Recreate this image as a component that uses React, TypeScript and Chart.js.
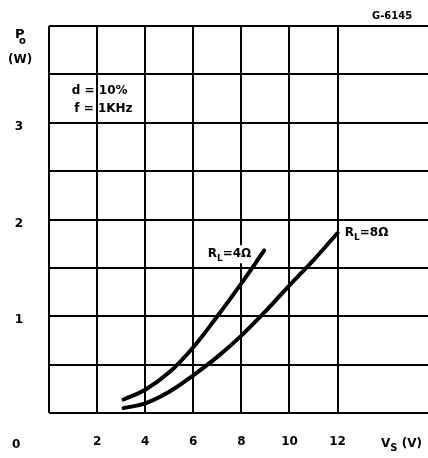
import React, { useEffect, useRef } from "react";
import { Chart, registerables } from "chart.js";
Chart.register(...registerables);

// X axis (Vs, volts) labelled ticks and Y axis (Po, watts) labelled ticks
const vsTicks = [2, 4, 6, 8, 10, 12];
const poTicks = [1, 2, 3];

// RL = 4 ohm curve
const rl4V = [3.1, 4, 5, 6, 7, 8, 8.95];
const rl4P = [0.14, 0.24, 0.42, 0.68, 1.0, 1.34, 1.68];

// RL = 8 ohm curve
const rl8V = [3.1, 4, 5, 6, 7, 8, 9, 10, 11, 12];
const rl8P = [0.05, 0.1, 0.22, 0.39, 0.58, 0.8, 1.05, 1.32, 1.58, 1.86];

const FONT = '"DejaVu Sans"';

type Part = { t: string; size: number; dy?: number };

function drawParts(ctx: CanvasRenderingContext2D, parts: Part[], x: number, y: number, bg: boolean) {
  let w = 0;
  parts.forEach((p) => {
    ctx.font = `bold ${p.size}px ${FONT}`;
    w += ctx.measureText(p.t).width;
  });
  if (bg) {
    ctx.fillStyle = "#fff";
    ctx.fillRect(x - 2, y - 12, w + 4, 18);
  }
  ctx.fillStyle = "#000";
  let cx = x;
  parts.forEach((p) => {
    ctx.font = `bold ${p.size}px ${FONT}`;
    ctx.fillText(p.t, cx, y + (p.dy || 0));
    cx += ctx.measureText(p.t).width;
  });
}

const textPlugin = {
  id: "texts",
  afterDraw(chart: any) {
    const { ctx } = chart;
    const x = chart.scales.x;
    const y = chart.scales.y;
    ctx.save();
    ctx.textBaseline = "alphabetic";
    ctx.textAlign = "left";
    // curve labels (data coordinates)
    drawParts(ctx, [{ t: "R", size: 12 }, { t: "L", size: 9, dy: 4 }, { t: "=4Ω", size: 12 }],
      x.getPixelForValue(6.6), y.getPixelForValue(1.61), true);
    drawParts(ctx, [{ t: "R", size: 12 }, { t: "L", size: 9, dy: 4 }, { t: "=8Ω", size: 12 }],
      x.getPixelForValue(12.3), y.getPixelForValue(1.83), true);
    // conditions
    drawParts(ctx, [{ t: "d = 10%", size: 12 }], x.getPixelForValue(0.95), y.getPixelForValue(3.3), false);
    drawParts(ctx, [{ t: "f = 1KHz", size: 12 }], x.getPixelForValue(1.05), y.getPixelForValue(3.11), false);
    // figure id
    drawParts(ctx, [{ t: "G-6145", size: 10 }], 372, 19, false);
    // axis titles
    drawParts(ctx, [{ t: "P", size: 13 }], 15, 38, false);
    drawParts(ctx, [{ t: "o", size: 10 }], 19, 44, false);
    drawParts(ctx, [{ t: "(W)", size: 12 }], 8, 63, false);
    drawParts(ctx, [{ t: "0", size: 12 }], 12, 448, false);
    drawParts(ctx, [{ t: "V", size: 12 }, { t: "S", size: 10, dy: 4 }, { t: " (V)", size: 12 }], 381, 447, false);
    ctx.restore();
  },
};

export default function App() {
  const ref = useRef<HTMLCanvasElement | null>(null);
  useEffect(() => {
    if (!ref.current) return;
    const chart = new Chart(ref.current, {
      type: "line",
      data: {
        datasets: [
          {
            label: "RL=4Ω",
            data: rl4V.map((v, i) => ({ x: v, y: rl4P[i] })),
            borderColor: "#000",
            borderWidth: 4,
            borderCapStyle: "round",
            pointRadius: 0,
            tension: 0.4,
          },
          {
            label: "RL=8Ω",
            data: rl8V.map((v, i) => ({ x: v, y: rl8P[i] })),
            borderColor: "#000",
            borderWidth: 4,
            borderCapStyle: "round",
            pointRadius: 0,
            tension: 0.4,
          },
        ],
      },
      options: {
        animation: false,
        responsive: false,
        layout: { padding: { top: 26, right: 0, left: 0, bottom: 0 } },
        plugins: { legend: { display: false }, tooltip: { enabled: false } },
        scales: {
          x: {
            type: "linear",
            min: 0,
            max: 15.76,
            afterBuildTicks: (s: any) => {
              s.ticks = s.ticks.filter((t: any) => Math.abs(t.value % 2) < 1e-6);
            },
            afterFit: (s: any) => {
              s.height = 45;
              s.paddingLeft = 0;
              s.paddingRight = 0;
              s.paddingTop = 0;
              s.paddingBottom = 0;
            },
            ticks: {
              stepSize: 2,
              autoSkip: false,
              maxRotation: 0,
              padding: 22,
              color: "#000",
              font: { family: FONT, size: 12, weight: "bold" },
              callback: (v: any) => (vsTicks.includes(Number(v)) ? String(v) : ""),
            },
            grid: { color: "#000", lineWidth: 2, drawTicks: false },
            border: { display: false },
          },
          y: {
            type: "linear",
            min: 0,
            max: 4,
            afterFit: (s: any) => {
              s.width = 49;
              s.paddingLeft = 0;
              s.paddingRight = 0;
              s.paddingTop = 0;
              s.paddingBottom = 0;
            },
            ticks: {
              stepSize: 0.5,
              autoSkip: false,
              padding: 26,
              labelOffset: 4,
              color: "#000",
              font: { family: FONT, size: 12, weight: "bold" },
              callback: (v: any) => (poTicks.includes(Number(v)) ? String(v) : ""),
            },
            grid: { color: "#000", lineWidth: 2, drawTicks: false },
            border: { display: false },
          },
        },
      },
      plugins: [textPlugin],
    } as any);
    return () => chart.destroy();
  }, []);
  return (
    <div style={{ position: "fixed", left: 0, top: 0, width: 428, height: 458, background: "#fff" }}>
      <canvas ref={ref} width={428} height={458} />
    </div>
  );
}
